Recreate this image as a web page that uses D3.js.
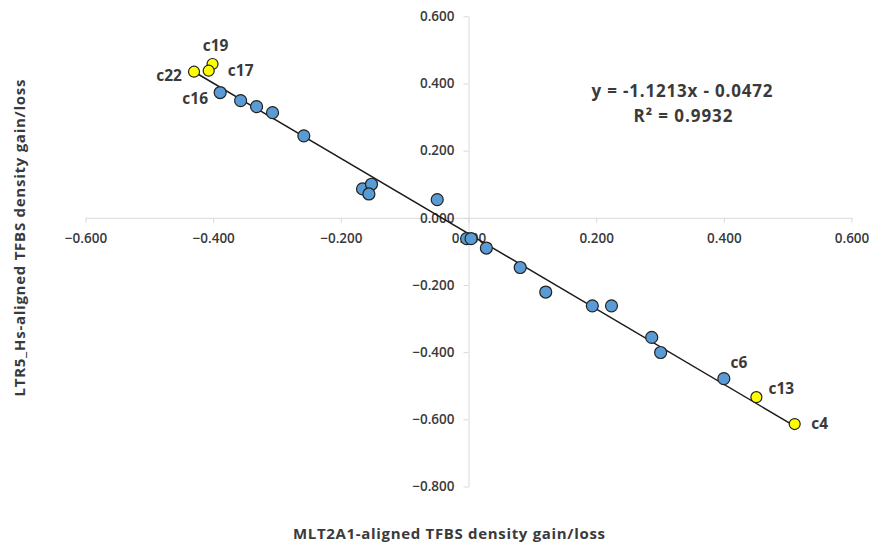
<!DOCTYPE html>
<html>
<head>
<meta charset="utf-8">
<script src="https://cdn.jsdelivr.net/npm/d3@7"></script>
<style>
  body { margin: 0; background: #fff; }
  svg text { font-family: "Open Sans", "Noto Sans", sans-serif; fill: #3a3a3a; }
</style>
</head>
<body>
<svg></svg>
<script>
// blue points (unlabelled)
let blueX = [-0.389, -0.357, -0.332, -0.307, -0.258, -0.166, -0.152, -0.156, -0.049,
             -0.003, 0.004, 0.028, 0.081, 0.121, 0.194, 0.224, 0.287, 0.301, 0.400];
let blueY = [0.373, 0.349, 0.331, 0.313, 0.244, 0.086, 0.100, 0.071, 0.054,
             -0.062, -0.062, -0.090, -0.148, -0.221, -0.262, -0.262, -0.356, -0.401, -0.479];
// highlighted (yellow) points
let yellowX = [-0.430, -0.401, -0.407, 0.451, 0.511];
let yellowY = [0.435, 0.458, 0.438, -0.534, -0.614];
// point labels
let labelNames = ["c22", "c19", "c17", "c16", "c6", "c13", "c4"];
let labelX = [-0.430, -0.401, -0.407, -0.389, 0.400, 0.451, 0.511];
let labelY = [0.435, 0.458, 0.438, 0.373, -0.479, -0.534, -0.614];

let xTicks = [-0.6, -0.4, -0.2, 0, 0.2, 0.4, 0.6];
let yTicks = [0.6, 0.4, 0.2, 0, -0.2, -0.4, -0.6, -0.8];
let slope = -1.1213;
let intercept = -0.0472;

let width = 869;
let height = 546;

let xScale = d3.scaleLinear()
                .domain([-0.6, 0.6])
                .range([85.5, 851.5]);
let yScale = d3.scaleLinear()
                .domain([-0.8, 0.6])
                .range([486.5, 16.3]);

let svg = d3.select("svg")
    .attr("width", width)
    .attr("height", height);

let xAxis = d3.axisBottom(xScale)
                .tickValues(xTicks)
                .tickSize(5)
                .tickSizeOuter(0)
                .tickFormat(d3.format(".3f"));
let yAxis = d3.axisLeft(yScale)
                .tickValues(yTicks)
                .tickSize(5)
                .tickSizeOuter(0)
                .tickFormat(d3.format(".3f"));

let gx = svg.append("g")
    .attr("transform", "translate(0, " + yScale(0) + ")")
    .call(xAxis);
gx.selectAll("text").attr("y", 20).attr("dy", "0.35em");

let gy = svg.append("g")
    .attr("transform", "translate(" + xScale(0) + ", 0)")
    .call(yAxis);
gy.selectAll("text").attr("x", -14);

svg.selectAll(".domain, .tick line")
    .attr("stroke", "#d9d9d9");
svg.selectAll("g").attr("font-size", 13.5);
svg.selectAll(".tick text")
    .style("font-size", "13.5px")
    .style("font-weight", "600")
    .attr("fill", "#3a3a3a");

// trendline over the data range
let allX = blueX.concat(yellowX);
let xr = d3.extent(allX);
svg.append("line")
    .attr("x1", xScale(xr[0]))
    .attr("y1", yScale(slope * xr[0] + intercept))
    .attr("x2", xScale(xr[1]))
    .attr("y2", yScale(slope * xr[1] + intercept))
    .attr("stroke", "#1a1a1a")
    .attr("stroke-width", 1.5);

svg.selectAll("circle.blue")
    .data(blueX)
    .enter()
    .append("circle")
    .attr("class", "blue")
    .attr("cx", d => xScale(d))
    .attr("cy", (d, i) => yScale(blueY[i]))
    .attr("r", 6)
    .attr("fill", "#5b9bd5")
    .attr("stroke", "#222")
    .attr("stroke-width", 1.2);

svg.selectAll("circle.yellow")
    .data(yellowX)
    .enter()
    .append("circle")
    .attr("class", "yellow")
    .attr("cx", d => xScale(d))
    .attr("cy", (d, i) => yScale(yellowY[i]))
    .attr("r", 5.5)
    .attr("fill", "#ffff00")
    .attr("stroke", "#222")
    .attr("stroke-width", 1.2);

// label offsets (dx, dy) from each point
let labelOffsets = [[-25, 4], [3, -18], [32, 0], [-25, 6], [15, -16], [25, -9], [25, 0]];
svg.selectAll("text.lbl")
    .data(labelNames)
    .enter()
    .append("text")
    .attr("class", "lbl")
    .attr("x", (d, i) => xScale(labelX[i]) + labelOffsets[i][0])
    .attr("y", (d, i) => yScale(labelY[i]) + labelOffsets[i][1])
    .attr("dy", "0.35em")
    .style("text-anchor", "middle")
    .style("font-size", "15.5px")
    .style("font-weight", "700")
    .text(d => d);

// regression equation
svg.append("text")
    .attr("x", 682)
    .attr("y", 97)
    .style("text-anchor", "middle")
    .style("font-size", "17px")
    .style("font-weight", "700")
    .attr("textLength", 181)
    .text("y = -1.1213x - 0.0472");
svg.append("text")
    .attr("x", 683)
    .attr("y", 122)
    .style("text-anchor", "middle")
    .style("font-size", "17px")
    .style("font-weight", "700")
    .attr("textLength", 99)
    .text("R² = 0.9932");

// axis titles
svg.append("text")
    .attr("x", 449)
    .attr("y", 539)
    .style("text-anchor", "middle")
    .style("font-size", "15px")
    .style("font-weight", "700")
    .attr("textLength", 312)
    .text("MLT2A1-aligned TFBS density gain/loss");

svg.append("text")
    .attr("transform", "rotate(-90)")
    .attr("x", -238)
    .attr("y", 25)
    .style("text-anchor", "middle")
    .style("font-size", "15px")
    .style("font-weight", "700")
    .attr("textLength", 317)
    .text("LTR5_Hs-aligned TFBS density gain/loss");
</script>
</body>
</html>
